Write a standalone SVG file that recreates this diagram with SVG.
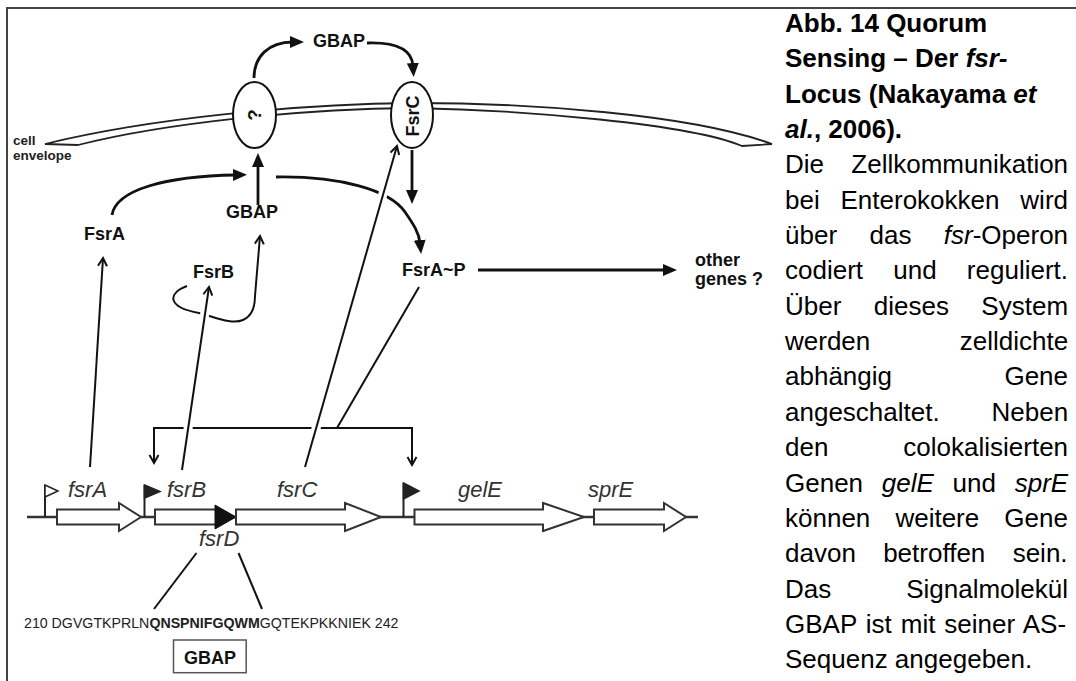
<svg xmlns="http://www.w3.org/2000/svg" width="1076" height="681" viewBox="0 0 1076 681">
<defs>
<style>
text{font-family:"Liberation Sans",Arial,sans-serif}
.lbl{font-weight:bold;font-size:18px;fill:#111}
.small{font-weight:bold;font-size:13.5px;fill:#222}
.gene{font-style:italic;font-size:22px;fill:#333}
.pep{font-size:14.2px;fill:#222}
.cap{font-size:26px;fill:#000}
.b{font-weight:bold}
.i{font-style:italic}
.thick{fill:none;stroke:#111;stroke-width:2.8}
.thin{fill:none;stroke:#111;stroke-width:2}
.halo{fill:none;stroke:#fff;stroke-width:9}
.garrow{fill:#fff;stroke:#333;stroke-width:2;stroke-linejoin:miter}
.flag{fill:#222;stroke:#222;stroke-width:1.5}
</style>
<marker id="fh" markerUnits="userSpaceOnUse" markerWidth="16" markerHeight="14" refX="3" refY="7" orient="auto"><path d="M0,1 L14,7 L0,13 z" fill="#111"/></marker>
<marker id="vh" markerUnits="userSpaceOnUse" markerWidth="12" markerHeight="12" refX="9" refY="6" orient="auto"><path d="M1,1.5 L9,6 L1,10.5" fill="none" stroke="#111" stroke-width="2"/></marker>
</defs>
<rect width="1076" height="681" fill="#fff"/>
<g id="frame" fill="none" stroke="#444" stroke-width="2">
<path d="M6,8 L1076,8"/>
<path d="M7,8 L7,681"/>
</g>
<g id="cell-envelope">
<path d="M45,144 C 150,118 300,104 412,103 C 530,103 690,114 772,144 L742,146 C 690,124 525,110 412,108 C 300,109 165,123 78,145 Z" fill="#fff" stroke="#222" stroke-width="1.8"/>
<text class="small" x="13" y="145">cell</text>
<text class="small" x="13" y="160">envelope</text>
</g>
<g id="unknown-transporter">
<ellipse cx="254.5" cy="115" rx="21.5" ry="33" fill="#fff" stroke="#111" stroke-width="2"/>
<text class="b" font-size="19" fill="#111" text-anchor="middle" transform="translate(254,115) rotate(-90)" y="7">?</text>
</g>
<g id="fsrC-receptor">
<ellipse cx="412" cy="115" rx="21" ry="33" fill="#fff" stroke="#111" stroke-width="2"/>
<text class="lbl" text-anchor="middle" transform="translate(412,116) rotate(-90)" y="6.5">FsrC</text>
</g>
<g id="connectors">
<path class="thick" d="M254,78 C 254,57 268,42 293,42" marker-end="url(#fh)"/>
<path class="thick" d="M367,43 C 397,42 412,50 413,66" marker-end="url(#fh)"/>
<path class="thick" d="M112,215 C 116,190 165,176 236,175" marker-end="url(#fh)"/>
<path class="thick" d="M258,205 L258,164" marker-end="url(#fh)"/>
<path class="thick" d="M276,177 C 340,176 390,190 405,212 C 414,225 419,233 420,243" marker-end="url(#fh)"/>
<path class="thick" d="M412,150 L412,193" marker-end="url(#fh)"/>
<path class="thick" d="M478,270 L666,270" marker-end="url(#fh)"/>
<path class="thin" d="M187,286 C 168,293 166,307 199,313 C 215,317 232,325 243,320 C 252,316 255,306 255,296 L260,236" marker-end="url(#vh)"/>
<path class="thin" d="M419,287 L337,428"/>
<path class="thin" d="M154,428 L412,428"/>
<path class="thin" d="M154,427 L154,463" marker-end="url(#vh)"/>
<path class="thin" d="M412,427 L412,465" marker-end="url(#vh)"/>
<path class="thin" d="M90,467 L103,258" marker-end="url(#vh)"/>
<path class="halo" d="M182,470 L206,305"/>
<path class="halo" d="M305,467 L392,162"/>
<path class="thin" d="M182,470 L209,287" marker-end="url(#vh)"/>
<path class="thin" d="M305,467 L397,146" marker-end="url(#vh)"/>
<path class="thin" d="M196.5,553 L154,609"/>
<path class="thin" d="M238.5,553 L262,609"/>
</g>
<g id="gbap-top"><text class="lbl" x="313" y="47">GBAP</text></g>
<g id="gbap-mid"><text class="lbl" x="226" y="218">GBAP</text></g>
<g id="fsrA-protein"><text class="lbl" x="84" y="240">FsrA</text></g>
<g id="fsrB-protein"><text class="lbl" x="193" y="278">FsrB</text></g>
<g id="fsrA-P"><text class="lbl" x="402" y="276">FsrA~P</text></g>
<g id="other-genes"><text class="lbl" x="695" y="266">other</text><text class="lbl" x="695" y="285">genes ?</text></g>
<g id="operon">
<path d="M27,517 L698,517" stroke="#333" stroke-width="2.5"/>
<path d="M45,517 L45,485" stroke="#222" stroke-width="2"/>
<path d="M45,485 L58,491 L45,497 Z" fill="#fff" stroke="#222" stroke-width="1.5"/>
<polygon class="garrow" points="57,509.5 119,509.5 119,503 141,517 119,531 119,524.5 57,524.5"/>
<path d="M144.5,517 L144.5,485" stroke="#222" stroke-width="2"/>
<path class="flag" d="M144.5,485 L160,491.5 L144.5,498 Z"/>
<rect class="garrow" x="155" y="509.5" width="61" height="15"/>
<path d="M215,505 L236,517 L215,529 Z" fill="#111" stroke="#111" stroke-width="1"/>
<polygon class="garrow" points="236,509.5 345,509.5 345,503 381,517 345,531 345,524.5 236,524.5"/>
<path d="M403.5,517 L403.5,483" stroke="#222" stroke-width="2"/>
<path class="flag" d="M403.5,483 L419,491 L403.5,499 Z"/>
<polygon class="garrow" points="414.5,509.5 543,509.5 543,503 584,517 543,531 543,524.5 414.5,524.5"/>
<polygon class="garrow" points="594,509.5 664,509.5 664,503 686,517 664,531 664,524.5 594,524.5"/>
<text class="gene" x="68" y="497">fsrA</text>
<text class="gene" x="167" y="497">fsrB</text>
<text class="gene" x="277" y="497">fsrC</text>
<text class="gene" x="458" y="497">gelE</text>
<text class="gene" x="588" y="497">sprE</text>
<text class="gene" x="199" y="546">fsrD</text>
</g>
<g id="peptide">
<text class="pep" x="24" y="628">210 DGVGTKPRLN<tspan class="b">QNSPNIFGQWM</tspan>GQTEKPKKNIEK 242</text>
</g>
<g id="gbap-box">
<rect x="173.5" y="640" width="72.7" height="32.7" fill="#fff" stroke="#555" stroke-width="1.5"/>
<text class="lbl" font-size="18.5" x="210" y="663.5" text-anchor="middle">GBAP</text>
</g>
<g id="caption" class="cap">
<text class="cap b" x="785" y="31.9">Abb. 14 Quorum</text>
<text class="cap b" x="785" y="67.3">Sensing – Der <tspan class="i">fsr-</tspan></text>
<text class="cap b" x="785" y="102.6">Locus (Nakayama <tspan class="i">et</tspan></text>
<text class="cap b" x="785" y="138"><tspan class="i">al.</tspan>, 2006).</text>
<text class="cap" x="785" y="173.3" word-spacing="20.1">Die Zellkommunikation</text>
<text class="cap" x="785" y="208.7" word-spacing="13.6">bei Enterokokken wird</text>
<text class="cap" x="785" y="244" word-spacing="25.2">über das <tspan class="i">fsr</tspan>-Operon</text>
<text class="cap" x="785" y="279.4" word-spacing="23">codiert und reguliert.</text>
<text class="cap" x="785" y="314.7" word-spacing="25.2">Über dieses System</text>
<text class="cap" x="785" y="350.1" word-spacing="82.2">werden zelldichte</text>
<text class="cap" x="785" y="385.4" word-spacing="105.2">abhängig Gene</text>
<text class="cap" x="785" y="420.8" word-spacing="44.6">angeschaltet. Neben</text>
<text class="cap" x="785" y="456.1" word-spacing="67.7">den colokalisierten</text>
<text class="cap" x="785" y="491.5" word-spacing="11.5">Genen <tspan class="i">gelE</tspan> und <tspan class="i">sprE</tspan></text>
<text class="cap" x="785" y="526.8" word-spacing="17.9">können weitere Gene</text>
<text class="cap" x="785" y="562.2" word-spacing="20.1">davon betroffen sein.</text>
<text class="cap" x="785" y="597.5" word-spacing="67.7">Das Signalmolekül</text>
<text class="cap" x="785" y="632.9" word-spacing="1.75">GBAP ist mit seiner AS-</text>
<text class="cap" x="785" y="668.2">Sequenz angegeben.</text>
</g>
</svg>
